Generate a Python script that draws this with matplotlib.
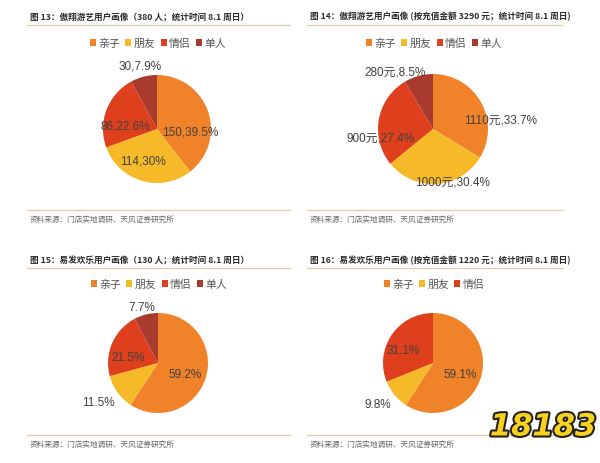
import matplotlib
matplotlib.use("Agg")
import matplotlib.pyplot as plt
from matplotlib.lines import Line2D
import matplotlib.patheffects as pe

plt.rcParams['font.family'] = ['Noto Sans CJK SC', 'DejaVu Sans']

W, H = 600, 464

# data
cats4 = ['亲子', '朋友', '情侣', '单人']
cats3 = ['亲子', '朋友', '情侣']

people13 = [150, 114, 86, 30]
labels13 = ['150,39.5%', '114,30%', '86,22.6%', '30,7.9%']

money14 = [1110, 1000, 900, 280]
labels14 = ['1110元,33.7%', '1000元,30.4%', '900元,27.4%', '280元,8.5%']

share15 = [59.2, 11.5, 21.5, 7.7]
labels15 = ['59.2%', '11.5%', '21.5%', '7.7%']

share16 = [59.1, 9.8, 31.1]
labels16 = ['59.1%', '9.8%', '31.1%']

titles = [
    '图 13：傲翔游艺用户画像（380 人；统计时间 8.1 周日）',
    '图 14：傲翔游艺用户画像 (按充值金额 3290 元；统计时间 8.1 周日)',
    '图 15：易发欢乐用户画像（130 人；统计时间 8.1 周日）',
    '图 16：易发欢乐用户画像 (按充值金额 1220 元；统计时间 8.1 周日)',
]
source = '资料来源：门店实地调研、天风证券研究所'

colors = ['#F0832A', '#F6B927', '#DE401D', '#A83A2E']

fig = plt.figure(figsize=(W / 100, H / 100), dpi=100)


def fx(x):
    return x / W


def fy(y):
    return 1 - y / H


def panel(x0, x1, ytitle, yline, ylegend, ysrcline, ysrc, cx, cy, r,
          values, labels, cats, offsets):
    fig.text(fx(x0 + 3), fy(ytitle), titles.pop(0), fontsize=6.2,
             fontweight='bold', color='#2b2b2b', va='center', ha='left')
    fig.add_artist(Line2D([fx(x0), fx(x1)], [fy(yline), fy(yline)],
                          color='#E9C9A0', lw=0.9))
    fig.add_artist(Line2D([fx(x0), fx(x1)], [fy(ysrcline), fy(ysrcline)],
                          color='#E9C9A0', lw=0.9))
    fig.text(fx(x0 + 3), fy(ysrc), source, fontsize=5.5, color='#666666',
             va='center', ha='left')

    ax = fig.add_axes([fx(cx - r), fy(cy + r), 2 * r / W, 2 * r / H])
    wedges, _ = ax.pie(values, colors=colors[:len(values)], startangle=90,
                       counterclock=False, radius=1,
                       wedgeprops=dict(linewidth=0))
    ax.set_xlim(-1, 1)
    ax.set_ylim(-1, 1)
    ax.set_aspect('auto')
    ax.axis('off')
    for lab, (dx, dy) in zip(labels, offsets):
        ax.text(dx, dy, lab, fontsize=8.5, color='#404040',
                ha='center', va='center',
                family=['Liberation Sans', 'Noto Sans CJK SC'])

    fig.legend(wedges, cats, loc='center',
               bbox_to_anchor=(fx(cx + 1), fy(ylegend)), ncol=len(cats),
               frameon=False, fontsize=7.8, handlelength=0.55, handleheight=0.55,
               handletextpad=0.2, columnspacing=0.5, labelcolor='#555555')


panel(27, 290, 17, 26, 44, 211, 220, 157, 130, 54,
      people13, labels13, cats4,
      [(0.61, -0.04), (-0.26, -0.59), (-0.59, 0.07), (-0.31, 1.17)])
panel(307, 563, 17, 26, 44, 211, 220, 433, 130, 55,
      money14, labels14, cats4,
      [(1.22, 0.18), (0.36, -0.96), (-0.96, -0.15), (-0.69, 1.05)])
panel(27, 290, 261, 269, 285, 436, 445, 158, 364, 50,
      share15, labels15, cats4,
      [(0.54, -0.22), (-1.2, -0.78), (-0.6, 0.12), (-0.32, 1.12)])
panel(307, 563, 261, 269, 285, 436, 445, 433, 364, 50,
      share16, labels16, cats3,
      [(0.54, -0.22), (-1.1, -0.82), (-0.6, 0.26)])

# watermark
fig.text(fx(543), fy(428), '18183', fontsize=22, fontweight='bold',
         fontstyle='italic', color='#F8D21C', ha='center', va='center',
         family='DejaVu Sans',
         path_effects=[pe.withStroke(linewidth=3, foreground='#222222')])

fig.savefig('out.png', dpi=100, facecolor='white')
